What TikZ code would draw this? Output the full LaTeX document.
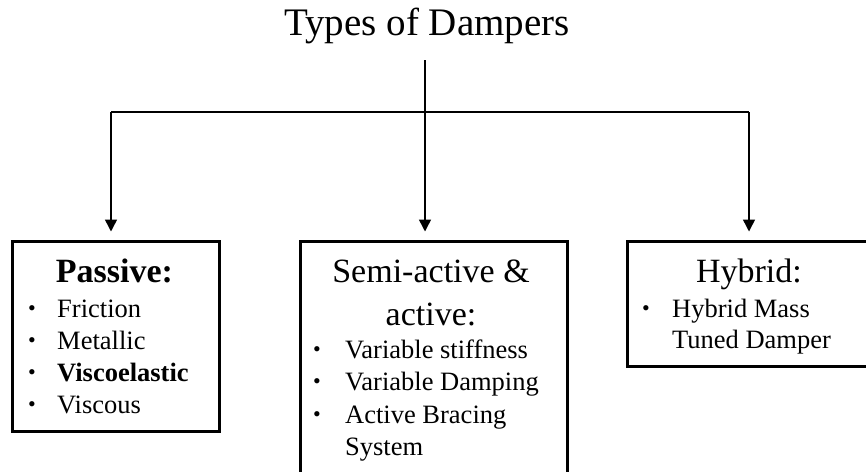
\documentclass[tikz,border=0pt]{standalone}
\usepackage{fontspec}
\setmainfont{Liberation Serif}
\usetikzlibrary{arrows.meta,positioning}
\tikzset{
  conn/.style={line width=1.5pt},
  arr/.style={conn,-{Triangle[length=12pt,width=12pt]},shorten >=8.5pt},
  typebox/.style={draw,line width=3pt,anchor=north west,inner sep=0pt},
  boxhead/.style={font=\fontsize{34}{43}\selectfont,anchor=base,inner sep=0pt},
  item/.style={font=\fontsize{26.5}{32}\selectfont,anchor=base west,inner sep=0pt},
  bullet/.style={font=\fontsize{22}{26}\selectfont,anchor=base,inner sep=0pt,yshift=1.5pt},
}
\begin{document}
\begin{tikzpicture}[x=1pt,y=-1pt]
	\useasboundingbox (0,0) rectangle (866,471);
	% title and fork
	\node[font=\fontsize{39}{46}\selectfont,anchor=base,inner sep=0pt] (title) at (427,35) {Types of Dampers};
	\coordinate (stem) at (425,60);
	\coordinate (fork) at (425,112);
	\coordinate (forkL) at (111,112);
	\coordinate (forkR) at (749,112);
	
	% the three boxes
	\node[typebox,minimum width=207,minimum height=190] (passive) at (11,240) {};
	\node[typebox,minimum width=267,minimum height=240] (semiact) at (299,240) {};
	\node[typebox,minimum width=244,minimum height=125] (hybrid) at (626,240) {};
	
	\draw[conn] (stem) -- (fork);
	\draw[conn] (forkL) -- (forkR);
	\draw[arr] (forkL) -- (forkL |- passive.north);
	\draw[arr] (fork) -- (fork |- semiact.north);
	\draw[arr] (forkR) -- (forkR |- hybrid.north);
	
	% passive
	\node[boxhead,font=\fontsize{34}{43}\selectfont\bfseries] (passive-h) at (114.5,282) {Passive:};
	\node[bullet] (pb1) at (32,317) {•};
	\node[item] (friction) at (57,317) {Friction};
	\node[bullet] (pb2) at (32,349) {•};
	\node[item] (metallic) at (57,349) {Metallic};
	\node[bullet] (pb3) at (32,381) {•};
	\node[item,font=\fontsize{26.5}{32}\selectfont\bfseries] (viscoel) at (57,381) {Viscoelastic};
	\node[bullet] (pb4) at (32,413) {•};
	\node[item] (viscous) at (57,413) {Viscous};
	
	% semi-active & active
	\node[boxhead] (semiact-h1) at (431,282) {Semi-active \&};
	\node[boxhead] (semiact-h2) at (431,325) {active:};
	\node[bullet] (sb1) at (317,358) {•};
	\node[item] (varstiff) at (345,358) {Variable stiffness};
	\node[bullet] (sb2) at (317,390) {•};
	\node[item] (vardamp) at (345,390) {Variable Damping};
	\node[bullet] (sb3) at (317,423) {•};
	\node[item] (bracing) at (345,423) {Active Bracing};
	\node[item] (system) at (345,455) {System};
	
	% hybrid
	\node[boxhead] (hybrid-h) at (749,282) {Hybrid:};
	\node[bullet] (hb1) at (646,317) {•};
	\node[item] (hmass) at (672,317) {Hybrid Mass};
	\node[item] (tuned) at (672,348) {Tuned Damper};
\end{tikzpicture}
\end{document}
